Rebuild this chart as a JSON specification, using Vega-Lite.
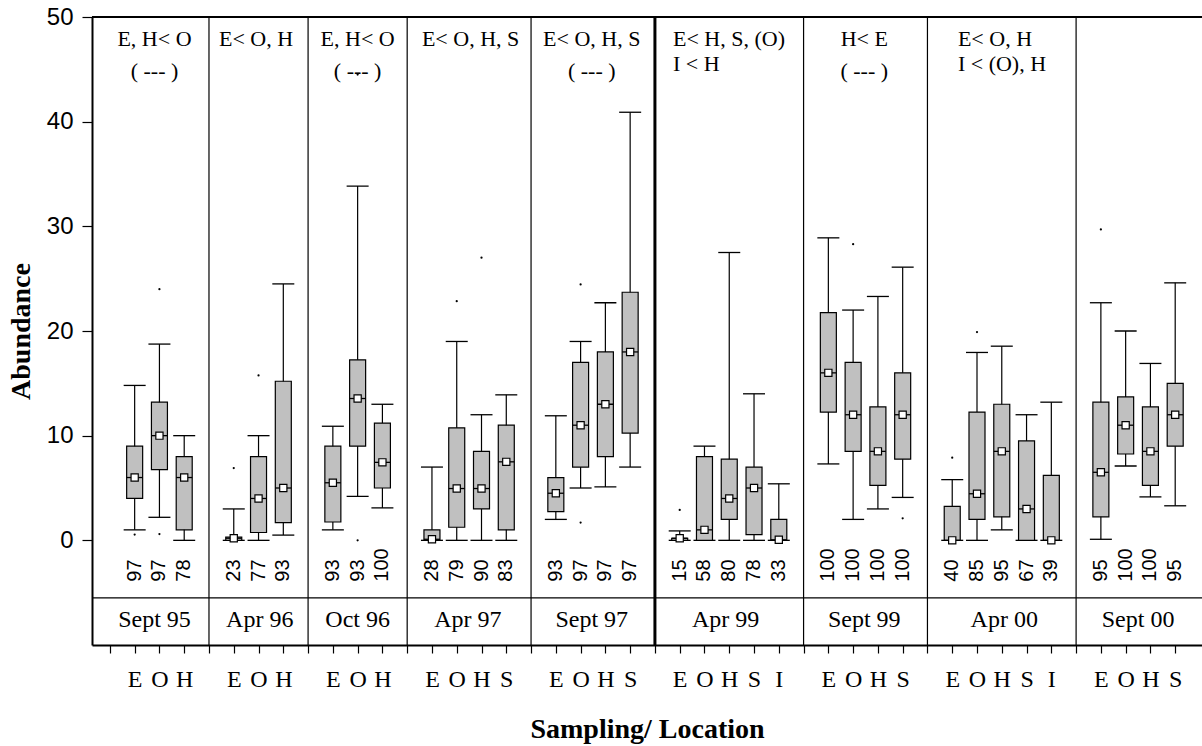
{
  "$schema": "https://vega.github.io/schema/vega-lite/v6.json",
  "width": 1110,
  "height": 628,
  "autosize": {"type": "none"},
  "padding": {"left": 92, "top": 17, "right": 0, "bottom": 101},
  "background": "white",
  "config": {"view": {"stroke": null}, "font": "Liberation Serif"},
  "resolve": {"axis": {"x": "independent", "y": "independent"}},
  "datasets": {
    "boxes": [
      {"date": "Sept 95", "loc": "E", "pos": 1, "lo": 1.0, "q1": 4.0, "med": 6.0, "q3": 9.0, "hi": 14.8, "pct": 97},
      {"date": "Sept 95", "loc": "O", "pos": 2, "lo": 2.2, "q1": 6.75, "med": 10.0, "q3": 13.2, "hi": 18.75, "pct": 97},
      {"date": "Sept 95", "loc": "H", "pos": 3, "lo": 0, "q1": 1.0, "med": 6.0, "q3": 8.0, "hi": 10.0, "pct": 78},
      {"date": "Apr 96", "loc": "E", "pos": 5, "lo": 0, "q1": 0, "med": 0.2, "q3": 0.3, "hi": 3.0, "pct": 23},
      {"date": "Apr 96", "loc": "O", "pos": 6, "lo": 0, "q1": 0.75, "med": 4.0, "q3": 8.0, "hi": 10.0, "pct": 77},
      {"date": "Apr 96", "loc": "H", "pos": 7, "lo": 0.5, "q1": 1.7, "med": 5.0, "q3": 15.2, "hi": 24.5, "pct": 93},
      {"date": "Oct 96", "loc": "E", "pos": 9, "lo": 1.0, "q1": 1.75, "med": 5.5, "q3": 9.0, "hi": 10.9, "pct": 93},
      {"date": "Oct 96", "loc": "O", "pos": 10, "lo": 4.2, "q1": 9.0, "med": 13.55, "q3": 17.25, "hi": 33.85, "pct": 93},
      {"date": "Oct 96", "loc": "H", "pos": 11, "lo": 3.1, "q1": 5.0, "med": 7.45, "q3": 11.2, "hi": 13.0, "pct": 100},
      {"date": "Apr 97", "loc": "E", "pos": 13, "lo": 0, "q1": 0, "med": 0.1, "q3": 1.0, "hi": 7.0, "pct": 28},
      {"date": "Apr 97", "loc": "O", "pos": 14, "lo": 0, "q1": 1.25, "med": 4.95, "q3": 10.75, "hi": 19.0, "pct": 79},
      {"date": "Apr 97", "loc": "H", "pos": 15, "lo": 0, "q1": 3.0, "med": 4.95, "q3": 8.5, "hi": 12.0, "pct": 90},
      {"date": "Apr 97", "loc": "S", "pos": 16, "lo": 0, "q1": 1.0, "med": 7.5, "q3": 11.0, "hi": 13.9, "pct": 83},
      {"date": "Sept 97", "loc": "E", "pos": 18, "lo": 2.0, "q1": 2.75, "med": 4.5, "q3": 6.0, "hi": 11.9, "pct": 93},
      {"date": "Sept 97", "loc": "O", "pos": 19, "lo": 5.0, "q1": 7.0, "med": 11.0, "q3": 17.0, "hi": 19.0, "pct": 97},
      {"date": "Sept 97", "loc": "H", "pos": 20, "lo": 5.1, "q1": 8.0, "med": 13.0, "q3": 18.0, "hi": 22.7, "pct": 97},
      {"date": "Sept 97", "loc": "S", "pos": 21, "lo": 7.0, "q1": 10.25, "med": 18.0, "q3": 23.7, "hi": 40.9, "pct": 97},
      {"date": "Apr 99", "loc": "E", "pos": 23, "lo": 0, "q1": 0, "med": 0.2, "q3": 0.2, "hi": 0.9, "pct": 15},
      {"date": "Apr 99", "loc": "O", "pos": 24, "lo": 0, "q1": 0, "med": 1.0, "q3": 8.0, "hi": 9.0, "pct": 58},
      {"date": "Apr 99", "loc": "H", "pos": 25, "lo": 0, "q1": 2.0, "med": 4.0, "q3": 7.75, "hi": 27.5, "pct": 80},
      {"date": "Apr 99", "loc": "S", "pos": 26, "lo": 0, "q1": 0.55, "med": 5.0, "q3": 7.0, "hi": 14.0, "pct": 78},
      {"date": "Apr 99", "loc": "I", "pos": 27, "lo": 0, "q1": 0, "med": 0.05, "q3": 2.0, "hi": 5.4, "pct": 33},
      {"date": "Sept 99", "loc": "E", "pos": 29, "lo": 7.3, "q1": 12.25, "med": 16.0, "q3": 21.75, "hi": 28.9, "pct": 100},
      {"date": "Sept 99", "loc": "O", "pos": 30, "lo": 2.0, "q1": 8.5, "med": 12.0, "q3": 17.0, "hi": 22.0, "pct": 100},
      {"date": "Sept 99", "loc": "H", "pos": 31, "lo": 3.0, "q1": 5.25, "med": 8.5, "q3": 12.75, "hi": 23.3, "pct": 100},
      {"date": "Sept 99", "loc": "S", "pos": 32, "lo": 4.1, "q1": 7.75, "med": 12.0, "q3": 16.0, "hi": 26.1, "pct": 100},
      {"date": "Apr 00", "loc": "E", "pos": 34, "lo": 0, "q1": 0, "med": 0, "q3": 3.25, "hi": 5.8, "pct": 40},
      {"date": "Apr 00", "loc": "O", "pos": 35, "lo": 0, "q1": 2.0, "med": 4.45, "q3": 12.25, "hi": 17.95, "pct": 85},
      {"date": "Apr 00", "loc": "H", "pos": 36, "lo": 1.0, "q1": 2.25, "med": 8.5, "q3": 13.0, "hi": 18.55, "pct": 95},
      {"date": "Apr 00", "loc": "S", "pos": 37, "lo": 0, "q1": 0, "med": 3.0, "q3": 9.5, "hi": 12.0, "pct": 67},
      {"date": "Apr 00", "loc": "I", "pos": 38, "lo": 0, "q1": 0, "med": 0, "q3": 6.2, "hi": 13.2, "pct": 39},
      {"date": "Sept 00", "loc": "E", "pos": 40, "lo": 0.1, "q1": 2.25, "med": 6.5, "q3": 13.2, "hi": 22.7, "pct": 95},
      {"date": "Sept 00", "loc": "O", "pos": 41, "lo": 7.1, "q1": 8.25, "med": 11.0, "q3": 13.7, "hi": 20.0, "pct": 100},
      {"date": "Sept 00", "loc": "H", "pos": 42, "lo": 4.15, "q1": 5.25, "med": 8.5, "q3": 12.75, "hi": 16.9, "pct": 100},
      {"date": "Sept 00", "loc": "S", "pos": 43, "lo": 3.3, "q1": 9.0, "med": 12.0, "q3": 15.0, "hi": 24.6, "pct": 95}
    ],
    "outliers": [
      {"pos": 1, "v": 0.55}, {"pos": 2, "v": 24.0}, {"pos": 2, "v": 0.6},
      {"pos": 5, "v": 6.9}, {"pos": 6, "v": 15.75},
      {"pos": 10, "v": 0.0}, {"pos": 10, "v": 44.5},
      {"pos": 14, "v": 22.85}, {"pos": 15, "v": 27.0},
      {"pos": 19, "v": 24.45}, {"pos": 19, "v": 1.7},
      {"pos": 23, "v": 2.9}, {"pos": 30, "v": 28.3}, {"pos": 32, "v": 2.1},
      {"pos": 34, "v": 7.9}, {"pos": 35, "v": 19.9}, {"pos": 40, "v": 29.7}
    ],
    "groups": [
      {"date": "Sept 95", "pos": 1.8, "annX": 1.8, "ann": "E, H< O\n( --- )"},
      {"date": "Apr 96", "pos": 6.05, "annX": 5.9, "ann": "E< O, H"},
      {"date": "Oct 96", "pos": 10.0, "annX": 10.0, "ann": "E, H< O\n( --- )"},
      {"date": "Apr 97", "pos": 14.45, "annX": 14.56, "ann": "E< O, H, S"},
      {"date": "Sept 97", "pos": 19.45, "annX": 19.45, "ann": "E< O, H, S\n( --- )"},
      {"date": "Apr 99", "pos": 24.85, "annX": 22.73, "ann": "E< H, S, (O)\nI < H"},
      {"date": "Sept 99", "pos": 30.45, "annX": 30.45, "ann": "H< E\n( --- )"},
      {"date": "Apr 00", "pos": 36.1, "annX": 34.23, "ann": "E< O, H\nI < (O), H"},
      {"date": "Sept 00", "pos": 41.5, "annX": 41.5, "ann": ""}
    ],
    "seps": [{"pos": 4}, {"pos": 8}, {"pos": 12}, {"pos": 17}, {"pos": 28}, {"pos": 33}, {"pos": 39}]
  },
  "layer": [
    {
      "data": {"name": "seps"},
      "mark": {"type": "rule", "color": "black", "strokeWidth": 1.2},
      "encoding": {
        "x": {"field": "pos", "type": "quantitative", "scale": {"domain": [-0.52, 43.88], "nice": false, "zero": false},
          "axis": {
            "values": [0,1,2,3,4,5,6,7,8,9,10,11,12,13,14,15,16,17,18,19,20,21,22,23,24,25,26,27,28,29,30,31,32,33,34,35,36,37,38,39,40,41,42,43],
            "labelExpr": "substring(' EOH EOH EOH EOHS EOHS EOHSI EOHS EOHSI EOHS', datum.value, datum.value + 1)",
            "title": "Sampling/ Location",
            "titleFont": "Liberation Serif", "titleFontSize": 28, "titleFontWeight": "bold", "titleColor": "black",
            "titleBaseline": "alphabetic", "titleY": 92,
            "labelFont": "Liberation Serif", "labelFontSize": 24, "labelColor": "black", "labelPadding": 14,
            "labelAngle": 0, "labelOverlap": false, "labelFlush": false, "labelBound": false,
            "tickSize": 8, "tickColor": "black", "tickWidth": 1.2,
            "domainColor": "black", "domainWidth": 2, "grid": false
          }
        }
      }
    },
    {
      "data": {"values": [{"pos": 22}]},
      "mark": {"type": "rule", "color": "black", "strokeWidth": 3},
      "encoding": {
        "x": {"field": "pos", "type": "quantitative", "axis": null}
      }
    },
    {
      "data": {"values": [{"lvl": -5.5}]},
      "mark": {"type": "rule", "color": "black", "strokeWidth": 1.2},
      "encoding": {
        "y": {"field": "lvl", "type": "quantitative", "scale": {"domain": [-10, 50], "nice": false, "zero": false},
          "axis": {
            "values": [0, 10, 20, 30, 40, 50],
            "title": "Abundance",
            "titleFont": "Liberation Serif", "titleFontSize": 28, "titleFontWeight": "bold", "titleColor": "black",
            "titleX": -71, "titleY": 314, "titleAngle": 270, "titleAlign": "center", "titleBaseline": "middle",
            "labelFont": "Liberation Sans", "labelFontSize": 24, "labelColor": "black", "labelPadding": 9,
            "tickSize": 10, "tickColor": "black", "tickWidth": 1.2,
            "domainColor": "black", "domainWidth": 2, "grid": false
          }
        }
      }
    },
    {
      "data": {"values": [{"lvl": 50}]},
      "mark": {"type": "rule", "color": "black", "strokeWidth": 2.2},
      "encoding": {
        "y": {"field": "lvl", "type": "quantitative", "axis": null}
      }
    },
    {
      "data": {"name": "boxes"},
      "mark": {"type": "rule", "color": "black", "strokeWidth": 1.2},
      "encoding": {
        "x": {"field": "pos", "type": "quantitative", "axis": null},
        "y": {"field": "lo", "type": "quantitative", "axis": null},
        "y2": {"field": "hi"}
      }
    },
    {
      "data": {"name": "boxes"},
      "mark": {"type": "tick", "orient": "horizontal", "color": "black", "size": 22, "thickness": 1.3, "opacity": 1},
      "encoding": {
        "x": {"field": "pos", "type": "quantitative", "axis": null},
        "y": {"field": "hi", "type": "quantitative", "axis": null}
      }
    },
    {
      "data": {"name": "boxes"},
      "mark": {"type": "tick", "orient": "horizontal", "color": "black", "size": 22, "thickness": 1.3, "opacity": 1},
      "encoding": {
        "x": {"field": "pos", "type": "quantitative", "axis": null},
        "y": {"field": "lo", "type": "quantitative", "axis": null}
      }
    },
    {
      "data": {"name": "boxes"},
      "mark": {"type": "bar", "size": 16, "fill": "#c0c0c0", "stroke": "black", "strokeWidth": 1.2, "opacity": 1},
      "encoding": {
        "x": {"field": "pos", "type": "quantitative", "axis": null},
        "y": {"field": "q1", "type": "quantitative", "axis": null},
        "y2": {"field": "q3"}
      }
    },
    {
      "data": {"name": "boxes"},
      "mark": {"type": "tick", "orient": "horizontal", "color": "black", "size": 16, "thickness": 1.3, "opacity": 1},
      "encoding": {
        "x": {"field": "pos", "type": "quantitative", "axis": null},
        "y": {"field": "med", "type": "quantitative", "axis": null}
      }
    },
    {
      "data": {"name": "boxes"},
      "mark": {"type": "point", "shape": "square", "filled": true, "fill": "white", "stroke": "black", "strokeWidth": 1.2, "size": 52, "opacity": 1},
      "encoding": {
        "x": {"field": "pos", "type": "quantitative", "axis": null},
        "y": {"field": "med", "type": "quantitative", "axis": null}
      }
    },
    {
      "data": {"name": "outliers"},
      "mark": {"type": "circle", "color": "black", "size": 5, "opacity": 1},
      "encoding": {
        "x": {"field": "pos", "type": "quantitative", "axis": null},
        "y": {"field": "v", "type": "quantitative", "axis": null}
      }
    },
    {
      "data": {"name": "boxes"},
      "mark": {"type": "text", "angle": 270, "align": "left", "baseline": "middle", "font": "Liberation Sans", "fontSize": 20, "color": "black"},
      "encoding": {
        "x": {"field": "pos", "type": "quantitative", "axis": null},
        "y": {"datum": -3.95, "type": "quantitative", "axis": null},
        "text": {"field": "pct", "type": "nominal"}
      }
    },
    {
      "data": {"name": "groups"},
      "mark": {"type": "text", "align": "center", "baseline": "alphabetic", "font": "Liberation Serif", "fontSize": 24, "color": "black"},
      "encoding": {
        "x": {"field": "pos", "type": "quantitative", "axis": null},
        "y": {"datum": -8.3, "type": "quantitative", "axis": null},
        "text": {"field": "date", "type": "nominal"}
      }
    },
    {
      "data": {"name": "groups"},
      "transform": [{"filter": "datum.ann != '' && datum.date != 'Apr 99' && datum.date != 'Apr 00'"}],
      "mark": {"type": "text", "align": "center", "baseline": "alphabetic", "font": "Liberation Serif", "fontSize": 22, "color": "black", "lineBreak": "\n", "lineHeight": 32},
      "encoding": {
        "x": {"field": "annX", "type": "quantitative", "axis": null},
        "y": {"datum": 47.2, "type": "quantitative", "axis": null},
        "text": {"field": "ann", "type": "nominal"}
      }
    },
    {
      "data": {"name": "groups"},
      "transform": [{"filter": "datum.date == 'Apr 99' || datum.date == 'Apr 00'"}],
      "mark": {"type": "text", "align": "left", "baseline": "alphabetic", "font": "Liberation Serif", "fontSize": 22, "color": "black", "lineBreak": "\n", "lineHeight": 25},
      "encoding": {
        "x": {"field": "annX", "type": "quantitative", "axis": null},
        "y": {"datum": 47.2, "type": "quantitative", "axis": null},
        "text": {"field": "ann", "type": "nominal"}
      }
    }
  ]
}
